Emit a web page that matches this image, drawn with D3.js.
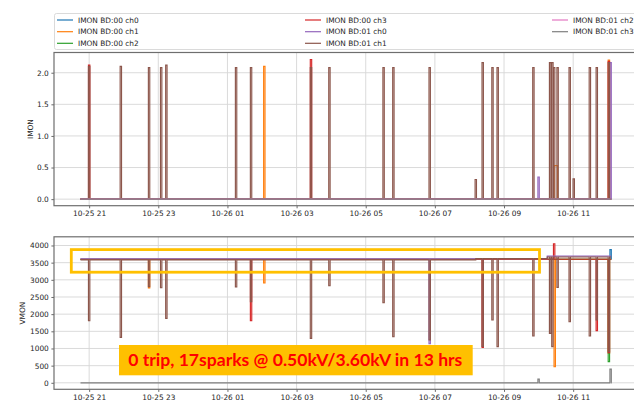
<!DOCTYPE html>
<html>
<head>
<meta charset="utf-8">
<script src="https://cdn.jsdelivr.net/npm/d3@7"></script>
<style>
  html, body { margin: 0; padding: 0; background: #fff; }
  svg { display: block; }
  text { font-family: "DejaVu Sans", sans-serif; }
</style>
</head>
<body>
<svg id="chart" width="634" height="401"></svg>
<script>
// ---------------- DATA ----------------
const seriesNames = ["IMON BD:00 ch0", "IMON BD:00 ch1", "IMON BD:00 ch2", "IMON BD:00 ch3",
                     "IMON BD:01 ch0", "IMON BD:01 ch1", "IMON BD:01 ch2", "IMON BD:01 ch3"];
const seriesColors = ["#1f77b4", "#ff7f0e", "#2ca02c", "#d62728", "#9467bd", "#8c564b", "#e377c2", "#7f7f7f"];

const timeTicks = ["2023-10-25 21:00", "2023-10-25 23:00", "2023-10-26 01:00", "2023-10-26 03:00",
                   "2023-10-26 05:00", "2023-10-26 07:00", "2023-10-26 09:00", "2023-10-26 11:00"];
const imonTicks = [0, 0.5, 1.0, 1.5, 2.0];
const vmonTicks = [0, 500, 1000, 1500, 2000, 2500, 3000, 3500, 4000];

const runStart = "2023-10-25 20:45";
const runEnd = "2023-10-26 12:06";

// IMON spikes: [time, peak value, (optional) duration in minutes]
const imonBlue = [];
const imonOrange = [["2023-10-26 02:04", 2.10], ["2023-10-26 10:30", 0.53, 6], ["2023-10-26 12:02", 2.20]];
const imonGreen = [];
const imonRed = [["2023-10-25 21:00", 2.12], ["2023-10-26 03:25", 2.21], ["2023-10-26 12:02", 2.18]];
const imonPurple = [["2023-10-26 10:00", 0.35], ["2023-10-26 12:05", 2.16]];
const imonBrown = [
  ["2023-10-25 21:00", 2.10], ["2023-10-25 21:55", 2.10], ["2023-10-25 22:44", 2.08],
  ["2023-10-25 23:05", 2.08], ["2023-10-25 23:14", 2.12], ["2023-10-26 01:15", 2.08],
  ["2023-10-26 01:41", 2.08], ["2023-10-26 03:25", 2.08], ["2023-10-26 03:57", 2.08],
  ["2023-10-26 05:31", 2.08], ["2023-10-26 05:48", 2.08], ["2023-10-26 06:51", 2.08],
  ["2023-10-26 08:11", 0.31], ["2023-10-26 08:23", 2.16], ["2023-10-26 08:40", 2.08],
  ["2023-10-26 08:49", 2.08], ["2023-10-26 09:51", 2.08], ["2023-10-26 10:20", 2.16],
  ["2023-10-26 10:24", 2.16], ["2023-10-26 10:27", 2.08], ["2023-10-26 10:33", 2.08],
  ["2023-10-26 10:54", 2.08], ["2023-10-26 11:01", 0.32], ["2023-10-26 11:29", 2.08],
  ["2023-10-26 11:41", 2.08], ["2023-10-26 12:02", 2.16]
];
const imonPink = [];
const imonGray = [];

// VMON baselines: [from time, level]
const vmonBaseBlue = [["2023-10-25 20:45", 3600]];
const vmonBaseOrange = [["2023-10-25 20:45", 3600]];
const vmonBaseGreen = [["2023-10-25 20:45", 3600]];
const vmonBaseRed = [["2023-10-25 20:45", 3600]];
const vmonBasePurple = [["2023-10-25 20:45", 3615], ["2023-10-26 10:15", 3690]];
const vmonBaseBrown = [["2023-10-25 20:45", 3580], ["2023-10-26 08:11", 3620], ["2023-10-26 10:15", 3665]];
const vmonBaseGray = [["2023-10-25 20:45", 0]];

// VMON excursions: [time, value reached, (optional) duration in minutes]
const vmonBlue = [["2023-10-26 12:05", 3880]];
const vmonOrange = [["2023-10-25 22:44", 2762], ["2023-10-26 02:04", 2907], ["2023-10-26 10:28", 469], ["2023-10-26 12:02", 862]];
const vmonGreen = [["2023-10-26 12:02", 615]];
const vmonRed = [["2023-10-26 01:41", 1809], ["2023-10-26 08:23", 1034], ["2023-10-26 10:27", 4050],
                 ["2023-10-26 11:41", 1518], ["2023-10-26 12:02", 880]];
const vmonPurple = [["2023-10-26 06:51", 1139]];
const vmonBrown = [
  ["2023-10-25 21:00", 1809], ["2023-10-25 21:55", 1325], ["2023-10-25 22:44", 2800],
  ["2023-10-25 23:05", 2770], ["2023-10-25 23:14", 1879], ["2023-10-26 01:15", 2790],
  ["2023-10-26 01:41", 2362], ["2023-10-26 03:25", 1296], ["2023-10-26 03:57", 2828],
  ["2023-10-26 05:31", 2333], ["2023-10-26 05:48", 1343], ["2023-10-26 06:51", 1247],
  ["2023-10-26 08:23", 1060], ["2023-10-26 08:40", 1829], ["2023-10-26 08:49", 1052],
  ["2023-10-26 09:51", 1363], ["2023-10-26 10:20", 1442], ["2023-10-26 10:24", 1052],
  ["2023-10-26 10:33", 2782], ["2023-10-26 10:54", 1780], ["2023-10-26 11:29", 1363],
  ["2023-10-26 11:41", 1829], ["2023-10-26 12:02", 906]
];
const vmonGray = [["2023-10-26 10:00", 107], ["2023-10-26 12:05", 400]];

const annotationText = "0 trip, 17sparks @ 0.50kV/3.60kV in 13 hrs";

// ---------------- CHART ----------------
const parse = d3.timeParse("%Y-%m-%d %H:%M");
const fmt = d3.timeFormat("%m-%d %H");
const svg = d3.select("#chart");

const xL = 54, xR = 640;
const x = d3.scaleTime()
  .domain([parse("2023-10-25 19:59"), parse("2023-10-26 12:56")])
  .range([xL, xR]);

const panels = [
  { top: 52.5, bottom: 205.7, domain: [-0.104, 2.32], ticks: imonTicks, tf: d3.format(".1f"), label: "IMON", labelX: 30,
    data: [[[runStart, 0]], imonBlue], },
  { top: 236.8, bottom: 389.3, domain: [-189, 4253], ticks: vmonTicks, tf: d3.format("d"), label: "VMON", labelX: 22 }
];

const imonSets = [imonBlue, imonOrange, imonGreen, imonRed, imonPurple, imonBrown, imonPink, imonGray];
const vmonSets = [vmonBlue, vmonOrange, vmonGreen, vmonRed, vmonPurple, vmonBrown, null, vmonGray];
const vmonBases = [vmonBaseBlue, vmonBaseOrange, vmonBaseGreen, vmonBaseRed, vmonBasePurple, vmonBaseBrown, null, vmonBaseGray];

function buildPoints(baseSteps, events, end) {
  const items = [];
  baseSteps.forEach((s, i) => { if (i > 0) items.push({ t: parse(s[0]), type: "step", v: s[1] }); });
  events.forEach(e => items.push({ t: parse(e[0]), type: "pulse", v: e[1], d: e[2] || 2.4 }));
  items.sort((a, b) => a.t - b.t);
  let base = baseSteps[0][1];
  const pts = [[parse(baseSteps[0][0]), base]];
  items.forEach(it => {
    if (it.type === "step") {
      pts.push([it.t, base]); base = it.v; pts.push([it.t, base]);
    } else {
      const h = it.d / 2 * 60000;
      const a = new Date(+it.t - h), b = new Date(+it.t + h);
      pts.push([a, base], [a, it.v], [b, it.v], [b, base]);
    }
  });
  pts.push([parse(end), base]);
  return pts;
}

const tickLen = 2.6, tickPad = 2.6;

panels.forEach((p, pi) => {
  const y = d3.scaleLinear().domain(p.domain).range([p.bottom, p.top]);
  const g = svg.append("g");

  // grid
  g.append("g").selectAll("line").data(timeTicks).join("line")
    .attr("x1", d => x(parse(d))).attr("x2", d => x(parse(d)))
    .attr("y1", p.top).attr("y2", p.bottom)
    .attr("stroke", "#d6d6d6").attr("stroke-width", 0.9);
  g.append("g").selectAll("line").data(p.ticks).join("line")
    .attr("x1", xL).attr("x2", xR)
    .attr("y1", d => y(d)).attr("y2", d => y(d))
    .attr("stroke", "#d6d6d6").attr("stroke-width", 0.9);

  // clip
  const cid = "clip" + pi;
  svg.append("clipPath").attr("id", cid).append("rect")
    .attr("x", xL).attr("y", p.top).attr("width", xR - xL).attr("height", p.bottom - p.top);

  const line = d3.line().x(d => x(d[0])).y(d => y(d[1]));
  const lg = g.append("g").attr("clip-path", `url(#${cid})`);
  for (let i = 0; i < 8; i++) {
    let pts;
    if (pi === 0) pts = buildPoints([[runStart, 0]], imonSets[i], runEnd);
    else {
      if (!vmonBases[i]) continue;
      pts = buildPoints(vmonBases[i], vmonSets[i], runEnd);
    }
    lg.append("path").attr("d", line(pts))
      .attr("fill", "none").attr("stroke", seriesColors[i])
      .attr("stroke-width", 1.15).attr("stroke-linejoin", "miter");
  }

  // axes
  const xa = d3.axisBottom(x).tickValues(timeTicks.map(parse)).tickFormat(fmt)
    .tickSizeInner(tickLen).tickSizeOuter(0).tickPadding(tickPad);
  const ya = d3.axisLeft(y).tickValues(p.ticks).tickFormat(p.tf)
    .tickSizeInner(tickLen).tickSizeOuter(0).tickPadding(tickPad);
  const gx = g.append("g").attr("transform", `translate(0,${p.bottom})`).call(xa);
  const gy = g.append("g").attr("transform", `translate(${xL},0)`).call(ya);
  [gx, gy].forEach(a => {
    a.select(".domain").remove();
    a.selectAll("line").attr("stroke", "#444").attr("stroke-width", 0.8);
    a.selectAll("text").attr("fill", "#262626").style("font-size", "7.4px").style("font-family", "DejaVu Sans");
  });

  // frame
  g.append("rect").attr("x", xL).attr("y", p.top).attr("width", xR - xL).attr("height", p.bottom - p.top)
    .attr("fill", "none").attr("stroke", "#6e6e6e").attr("stroke-width", 1.2);

  // y label
  g.append("text").attr("transform", `translate(${p.labelX},${(p.top + p.bottom) / 2}) rotate(-90)`)
    .attr("text-anchor", "middle").attr("dy", "0.35em")
    .style("font-size", "7.4px").attr("fill", "#262626").text(p.label);
});

// legend
const lgd = svg.append("g");
lgd.append("rect").attr("x", 54.5).attr("y", 13.5).attr("width", 600).attr("height", 36)
  .attr("rx", 2).attr("fill", "#fff").attr("stroke", "#d0d0d0").attr("stroke-width", 0.8);
const colX = [57, 305, 552];
const rowY = [20, 31.7, 43.3];
seriesNames.forEach((n, i) => {
  const c = Math.floor(i / 3), r = i % 3;
  const gx = colX[c], gy = rowY[r];
  lgd.append("line").attr("x1", gx).attr("x2", gx + 16).attr("y1", gy).attr("y2", gy)
    .attr("stroke", seriesColors[i]).attr("stroke-width", 1.2);
  lgd.append("text").attr("x", gx + 21).attr("y", gy).attr("dy", "0.35em")
    .style("font-size", "7.4px").attr("fill", "#262626").text(n);
});

// annotations
svg.append("rect").attr("x", 71.3).attr("y", 249.6).attr("width", 468.2).attr("height", 22.6)
  .attr("fill", "none").attr("stroke", "#FFC000").attr("stroke-width", 2.8);
svg.append("rect").attr("x", 119).attr("y", 345).attr("width", 353.7).attr("height", 30.3)
  .attr("fill", "#FFC000");
svg.append("text").attr("x", 128.3).attr("y", 366)
  .attr("textLength", 334).attr("lengthAdjust", "spacingAndGlyphs")
  .style("font-family", "Lato, 'Open Sans', sans-serif").style("font-weight", "bold")
  .style("font-size", "17.5px").attr("fill", "#FF0000").text(annotationText);
</script>
</body>
</html>
